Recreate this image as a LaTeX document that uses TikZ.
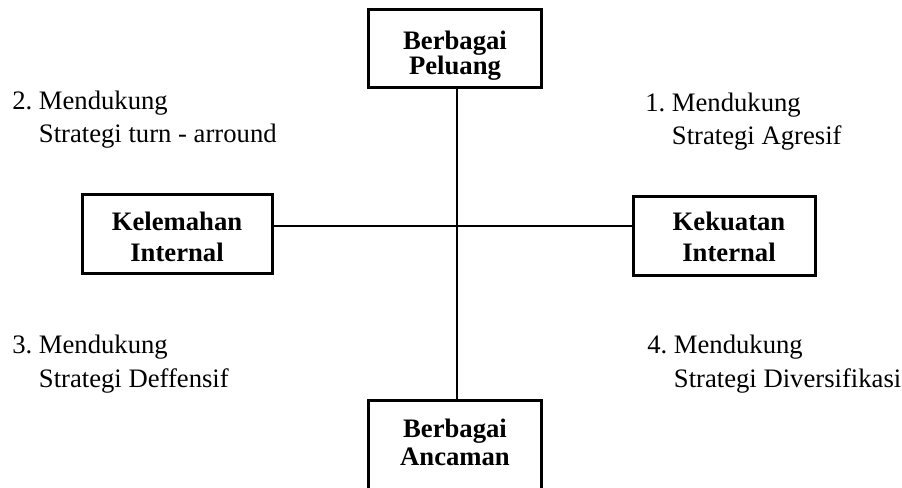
\documentclass[tikz,border=0pt]{standalone}
\usepackage{fontspec}
\setmainfont{Liberation Serif}
\newcommand\dukung[2]{#1.~Mendukung\\\phantom{#1.~}#2}
\tikzset{
  kotak/.style={draw, line width=2.2pt, inner sep=0pt},
  judul/.style={font=\fontsize{20}{#1}\selectfont\bfseries, align=center, anchor=base, inner sep=0pt},
  judul/.default=24pt,
  strategi/.style={font=\fontsize{20}{25pt}\selectfont, align=left, anchor=base west, inner sep=0pt},
  garis/.style={line width=1.6pt}
}
\begin{document}
\begin{tikzpicture}[x=0.75pt,y=-0.75pt]
  \useasboundingbox (0,0) rectangle (902,488);
  % kotak
  \node[kotak, minimum width=173*0.75pt, minimum height=78*0.75pt] (peluang) at (455,48.5) {};
  \node[kotak, minimum width=190*0.75pt, minimum height=79*0.75pt] (kelemahan) at (177.5,234) {};
  \node[kotak, minimum width=182*0.75pt, minimum height=79*0.75pt] (kekuatan) at (724.5,236) {};
  \node[kotak, minimum width=173*0.75pt, minimum height=99*0.75pt] (ancaman) at (455,450) {};
  % teks kotak (base = baris terakhir)
  \node[judul=18.75pt] (tpeluang) at (455,75) {Berbagai\\Peluang};
  \node[judul] (tkelemahan) at (177,262) {Kelemahan\\Internal};
  \node[judul] (tkekuatan) at (729,262) {Kekuatan\\Internal};
  \node[judul=21pt] (tancaman) at (455,465) {Berbagai\\Ancaman};
  % sumbu
  \coordinate (pusat) at (457,226);
  \draw[garis] (peluang.south -| pusat) -- (ancaman.north -| pusat);
  \draw[garis] (kelemahan.east |- pusat) -- (kekuatan.west |- pusat);
  % kuadran
  \node[strategi] (agresif) at (645,145) {\dukung{1}{Strategi Agresif}};
  \node[strategi] (turn) at (12,143) {\dukung{2}{Strategi turn - arround}};
  \node[strategi] (defensif) at (12,387) {\dukung{3}{Strategi Deffensif}};
  \node[strategi] (diversifikasi) at (647,387) {\dukung{4}{Strategi Diversifikasi}};
\end{tikzpicture}
\end{document}
